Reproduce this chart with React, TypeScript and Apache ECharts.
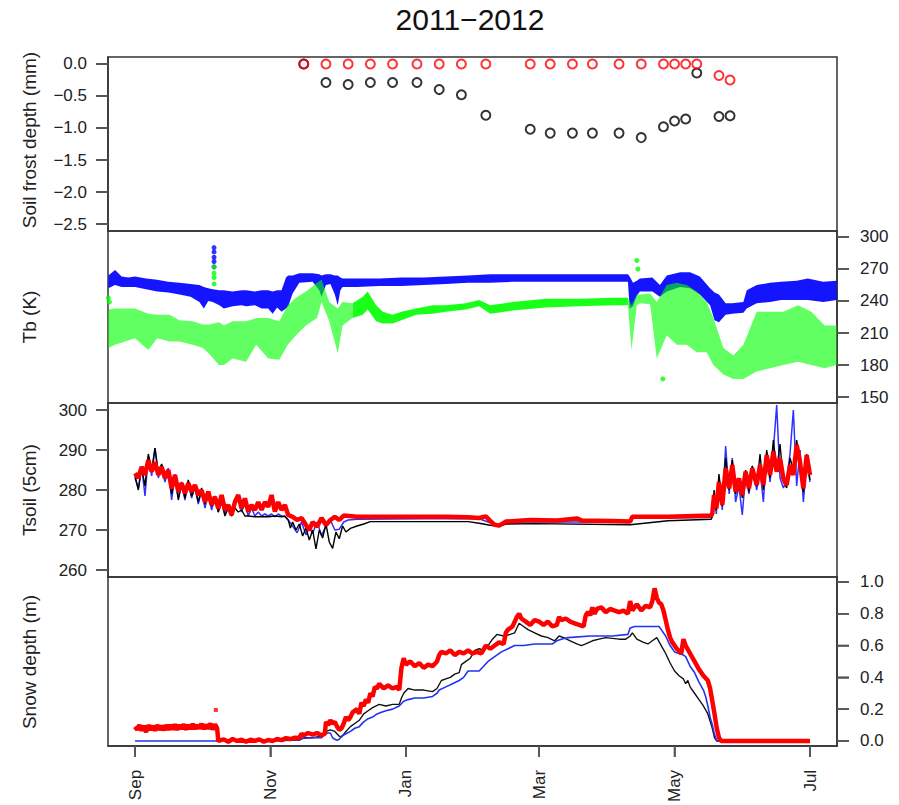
import React, { useEffect, useRef } from 'react';
import * as echarts from 'echarts';

const FONT = '"Liberation Sans", Arial, Helvetica, sans-serif';
const X_MIN = -12.16;
const X_MAX = 316.16;

// x axis: days since 1 Sep 2011
const monthTicks = [0, 61, 122, 182, 243, 304];
const monthLabels = ['Sep', 'Nov', 'Jan', 'Mar', 'May', 'Jul'];

// y tick labels
const frostTicks = [0, -0.5, -1, -1.5, -2, -2.5];
const tbTicks = [150, 180, 210, 240, 270, 300];
const tsoilTicks = [260, 270, 280, 290, 300];
const snowTicks = [0, 0.2, 0.4, 0.6, 0.8, 1.0];

// Panel 1: soil frost depth
const frostDays = [76, 86, 96, 106, 116, 127, 137, 147, 158, 178, 187, 197, 206, 218, 228, 238, 243, 248, 253, 263, 268];
const frostRed = [0, 0, 0, 0, 0, 0, 0, 0, 0, 0, 0, 0, 0, 0, 0, 0, 0, 0, 0, -0.18, -0.25];
const frostBlack = [0, -0.29, -0.32, -0.29, -0.29, -0.29, -0.4, -0.48, -0.8, -1.02, -1.08, -1.08, -1.08, -1.08, -1.15, -0.98, -0.89, -0.86, -0.14, -0.82, -0.81];

// Panel 2: Tb envelopes [day, low, high]
const tbBlueBand = [
  [-12, 252, 264], [-9, 255, 269], [-6, 253, 263], [-3, 253, 262], [0, 253, 263], [5, 251, 261], [10, 249, 260],
  [15, 248, 258], [20, 246, 257], [25, 244, 256], [29, 239, 255], [31, 233, 253], [33, 240, 252], [35, 239, 251],
  [38, 236, 250], [40, 233, 250], [44, 235, 249], [48, 236, 250], [50, 235, 250], [54, 236, 249], [57, 233, 250],
  [60, 233, 250], [62, 228, 249], [64, 234, 250], [66, 230, 250], [68, 233, 262], [69, 235, 264], [71, 247, 264],
  [74, 257, 266], [80, 258, 266], [83, 250, 265], [84, 244, 264], [86, 255, 265], [88, 256, 265], [90, 246, 264],
  [91.3, 236, 264], [92.5, 250, 262], [93.5, 253, 261], [100, 253, 261], [110, 254, 261], [120, 254, 262],
  [130, 255, 262], [140, 256, 263], [150, 257, 264], [160, 257, 265], [170, 258, 265], [180, 258, 265],
  [190, 258, 265], [200, 258, 265], [210, 258, 265], [222, 258, 265], [222.8, 233, 263], [224.3, 235, 257],
  [226, 245, 259], [227.4, 249, 261], [233, 249, 262], [236.4, 244, 255], [239.5, 249, 264], [245.5, 253, 267],
  [250, 252, 267], [254.4, 246, 263], [259, 236, 252], [261, 222, 248], [263, 220, 246], [266, 227, 238],
  [269, 228, 238], [274, 229, 239], [275.5, 233, 250], [280, 238, 255], [286, 239, 257], [291, 241, 258],
  [298, 241, 259], [303, 241, 261], [310, 239, 258], [316, 241, 259],
];
// green envelope split into the noisy autumn part, the smooth winter part and the noisy spring part
const tbGreenAutumn = [
  [-12, 196, 232], [-9, 199, 233], [0, 205, 233], [6, 194, 228], [10, 205, 227], [15.6, 202, 227], [20, 202, 222],
  [26, 199, 221], [30.6, 196, 218], [33.6, 190, 218], [37.8, 180, 220], [40, 180, 217], [44, 186, 221],
  [50, 183, 221], [54.6, 199, 224], [60, 186, 224], [65, 185, 221], [68.8, 199, 236], [72.5, 208, 243],
  [77, 217, 249], [82, 224, 257], [84, 239, 260], [87.5, 221, 239], [91.3, 191, 233], [93.5, 217, 239],
  [98, 224, 238],
];
const tbGreenWinter = [
  [98, 224, 238], [102.6, 227, 244], [104.8, 232, 249], [108.6, 221, 236], [111.6, 219, 230], [116, 219, 227],
  [120, 222, 230], [126.6, 227, 233], [134, 228, 236], [140, 230, 236], [149, 232, 238], [155, 235, 241],
  [160, 228, 236], [170, 231, 239], [185, 234, 242], [200, 235, 242], [215, 236, 243], [222, 236, 243],
];
const tbGreenSpring = [
  [222, 236, 243], [223.6, 194, 236], [226, 236, 246], [227.4, 238, 246], [232, 237, 247], [235, 186, 239],
  [239.5, 208, 255], [244, 199, 257], [248.5, 199, 255], [253, 192, 249], [257.5, 192, 239], [260.5, 180, 224],
  [265, 171, 196], [269.5, 167, 189], [274, 167, 199], [280, 174, 230], [286, 177, 230], [292, 180, 230],
  [298.6, 183, 236], [304.6, 180, 230], [310.6, 177, 217], [316, 180, 217],
];
const tbBlueOut = [[35.6, 290], [35.6, 286], [35.6, 281], [35.6, 277], [35.6, 272]];
const tbGreenOut = [[35.6, 272], [35.6, 266], [35.6, 262], [35.6, 256], [226, 278], [226.5, 270], [237.7, 167], [-12, 243], [-11.5, 239]];

// Panel 3: Tsoil (5cm)
const tsoilRed = [
  [0, 284.2], [1.5, 283], [3, 285.8], [4.5, 283.75], [6, 287.5], [7.5, 284.6], [9, 287], [10.5, 283.75], [12, 285.8],
  [13.5, 283], [15, 285], [16.5, 280.4], [18, 283.75], [19.5, 279.6], [21, 281.7], [22.5, 279.2], [24, 281.7],
  [25.5, 279.6], [27, 281.25], [28.5, 278.75], [30, 280], [31.5, 277], [33, 279.6], [34.5, 276.25], [36, 278.3],
  [37.5, 275.4], [39, 278.75], [40.5, 275], [42, 276.25], [43.5, 273.75], [45, 277], [46.5, 278.75], [48, 275.4],
  [49.5, 277.9], [51, 274.6], [52.5, 276.25], [54, 275], [55.5, 277], [57, 275], [58.5, 277], [60, 275.8],
  [61.5, 278.75], [63, 274.6], [64.5, 277], [66, 275], [67.5, 276.25], [69, 273.75], [71, 273.3], [73, 272.5],
  [75, 273], [77, 271.25], [78.5, 270], [80, 272], [82, 270.8], [84, 273], [86, 271.25], [88, 272.5], [90, 273.3],
  [92, 272.5], [94, 273.6], [100, 273.3], [120, 273.3], [140, 273.3], [150, 273.2], [155, 273], [158, 273.4],
  [160, 272.3], [162, 271.3], [164, 271.1], [167, 272.1], [178, 272.5], [190, 272.4], [199, 272.9], [201, 272.4],
  [215, 272.25], [223, 272.1], [224, 273.3], [240, 273.3], [259.5, 273.6], [260, 274.2], [260.8, 278.75],
  [261.8, 275.4], [263, 282], [264.5, 276.25], [266, 285.4], [267.6, 280.4], [269, 286.25], [270.5, 279.6],
  [272, 282.9], [273.5, 278.75], [275, 284.6], [276.5, 280.4], [278, 285.4], [280, 281.25], [281.5, 286.25],
  [283, 281.25], [284.5, 288.75], [286, 283.75], [287.5, 289.6], [289, 284.6], [290.5, 287.9], [292, 282.9],
  [293.5, 281.25], [295, 286.25], [296.5, 283.75], [298, 291.25], [299.5, 287], [301, 280.4], [302.5, 288.75],
  [304, 283.75],
];
const tsoilBlue = [
  [0, 283], [1.5, 280.5], [3, 286], [4.5, 278.5], [6, 288.5], [7.5, 283.5], [9, 290.5], [10.5, 283], [12, 286],
  [13.5, 282], [15, 285.5], [16.5, 277.5], [18, 284], [19.5, 278], [21, 282], [22.5, 277.5], [24, 282], [25.5, 278],
  [27, 281], [28.5, 276.5], [30, 280], [31.5, 275.5], [33, 279.5], [34.5, 275], [36, 278], [37.5, 274.5], [39, 278],
  [40.5, 274], [42, 276], [43.5, 273.5], [45, 276.5], [46.5, 278], [48, 274.5], [49.5, 277], [51, 273.5],
  [52.5, 275.5], [54, 273.5], [55.5, 274.5], [57, 273.5], [58.5, 274], [60, 273.5], [61.5, 274], [63, 273.3],
  [64.5, 274], [66, 273.5], [67.5, 273.3], [69, 272.5], [71, 271], [73, 269.3], [75, 272], [77, 268.8],
  [78.5, 270.5], [80, 269.2], [82, 272], [84, 268.6], [86, 271], [88, 272.5], [90, 270], [92, 270.2], [94, 272],
  [96, 272.5], [100, 272.7], [130, 272.8], [155, 272.8], [160, 271.8], [163, 270.9], [166, 271.6], [175, 272],
  [200, 272], [223, 271.9], [224, 273], [259.5, 273.1], [260, 273.5], [260.8, 279], [261.8, 274], [263, 283.5],
  [264.5, 275], [266, 291], [267.6, 279], [269, 288], [270.5, 277], [272, 281], [273.5, 273.75], [275, 284],
  [276.5, 279], [278, 286], [280, 280], [281.5, 285], [283, 277], [284.5, 289.5], [286, 282], [287.5, 290],
  [289, 301.25], [290.5, 283], [292, 280.5], [293.5, 282.5], [295, 289], [296.5, 300], [298, 281], [299.5, 290],
  [301, 277], [302.5, 287], [304, 282],
];
const tsoilBlack = [
  [0, 283.5], [1.5, 280], [3, 285.5], [4.5, 281], [6, 289], [7.5, 285], [9, 290.5], [10.5, 284.5], [12, 286.5],
  [13.5, 283.5], [15, 284], [16.5, 279], [18, 283], [19.5, 277.5], [21, 281.5], [22.5, 278], [24, 282.5],
  [25.5, 278.5], [27, 280.5], [28.5, 277], [30, 280.5], [31.5, 276.5], [33, 279], [34.5, 276], [36, 278.5],
  [37.5, 274.5], [39, 277], [40.5, 273.5], [42, 275.5], [43.5, 273.5], [45, 275.5], [46.5, 274.5], [48, 275],
  [49.5, 273.5], [51, 273.5], [54, 273.3], [60, 273.3], [63, 273.5], [66, 273.3], [67.5, 273.5], [69, 272.5],
  [70, 270.5], [71, 272], [72.5, 270], [74, 271.5], [75.5, 268.5], [77, 270.5], [78.5, 267.5], [80, 270],
  [81.5, 265.3], [83, 270], [84.5, 268], [86, 271.5], [87.5, 267], [89, 265.4], [90.5, 269.5], [92, 267.8],
  [93.5, 271], [95, 269.5], [97, 270.4], [100, 271], [103, 271.5], [106, 272.1], [150, 272.1], [155, 271.7],
  [160, 271.2], [164, 270.9], [167, 271.5], [180, 271.6], [223, 271.3], [240, 272.3], [259.5, 272.7], [260, 273.3],
  [260.8, 280], [261.8, 275], [263, 284], [264.5, 276], [266, 288], [267.6, 280], [269, 287.5], [270.5, 279],
  [272, 283], [273.5, 278], [275, 285], [276.5, 279.5], [278, 286], [280, 281], [281.5, 289], [283, 280],
  [284.5, 290], [286, 283], [287.5, 292.5], [289, 285], [290.5, 291.5], [292, 282], [293.5, 280.5], [295, 288],
  [296.5, 285], [298, 292.5], [299.5, 286], [301, 279.5], [302.5, 289], [304, 282.5],
];

// Panel 4: snow depth (m)
const snowRed = [
  [0, 0.09], [1, 0.07], [2, 0.1], [3, 0.065], [4, 0.095], [5, 0.055], [6, 0.1], [7, 0.07], [8, 0.095], [9, 0.065],
  [10, 0.1], [11, 0.07], [12, 0.095], [13, 0.068], [14, 0.1], [15, 0.07], [16, 0.1], [17, 0.072], [18, 0.105],
  [19, 0.07], [20, 0.1], [21, 0.075], [22, 0.105], [23, 0.072], [24, 0.1], [25, 0.075], [26, 0.108], [27, 0.075],
  [28, 0.1], [29, 0.078], [30, 0.108], [31, 0.075], [32, 0.102], [33, 0.078], [34, 0.11], [35, 0.072], [36, 0.105],
  [37, 0.08], [37.5, 0.0], [40, 0.01], [42, -0.005], [44, 0.012], [46, 0.0], [48, 0.008], [50, -0.005], [52, 0.008],
  [54, 0.0], [56, 0.01], [58, -0.005], [60, 0.006], [62, 0.0], [64, 0.012], [66, 0.005], [68, 0.018], [70, 0.012],
  [72, 0.02], [74, 0.018], [75, 0.045], [76, 0.035], [78, 0.05], [80, 0.04], [82, 0.05], [84, 0.035], [85.5, 0.045],
  [86, 0.12], [87, 0.1], [88, 0.13], [89, 0.11], [90, 0.12], [91, 0.09], [92, 0.07], [93, 0.08], [94, 0.11],
  [95, 0.15], [96, 0.13], [97, 0.15], [98, 0.18], [100, 0.2], [101, 0.17], [102, 0.24], [103, 0.22], [104, 0.26],
  [105, 0.24], [106, 0.3], [107, 0.28], [108, 0.34], [109, 0.33], [110, 0.36], [112, 0.33], [114, 0.35],
  [116, 0.33], [118, 0.34], [119, 0.32], [120, 0.46], [121, 0.52], [122, 0.48], [124, 0.5], [126, 0.47],
  [128, 0.49], [130, 0.46], [132, 0.48], [134, 0.47], [136, 0.5], [137, 0.54], [138, 0.56], [140, 0.55],
  [142, 0.57], [144, 0.54], [146, 0.56], [148, 0.55], [150, 0.57], [152, 0.55], [154, 0.56], [156, 0.55],
  [158, 0.6], [160, 0.58], [162, 0.6], [164, 0.62], [166, 0.61], [167, 0.68], [168, 0.7], [170, 0.72], [172, 0.78],
  [173, 0.8], [174, 0.77], [176, 0.75], [178, 0.73], [180, 0.76], [182, 0.75], [184, 0.73], [186, 0.75],
  [188, 0.72], [190, 0.73], [191, 0.78], [192, 0.76], [194, 0.77], [196, 0.75], [198, 0.74], [200, 0.73],
  [202, 0.72], [203, 0.79], [204, 0.81], [205, 0.79], [206, 0.84], [207, 0.8], [208, 0.83], [210, 0.84],
  [212, 0.81], [214, 0.83], [216, 0.82], [218, 0.81], [220, 0.82], [222, 0.8], [223, 0.88], [224, 0.82],
  [226, 0.86], [228, 0.82], [230, 0.85], [232, 0.84], [233, 0.88], [234, 0.96], [235, 0.9], [236, 0.87],
  [237, 0.86], [238, 0.82], [239, 0.76], [240, 0.7], [241, 0.65], [242, 0.62], [244, 0.58], [246, 0.55],
  [247, 0.64], [248, 0.6], [250, 0.55], [252, 0.5], [254, 0.45], [256, 0.41], [258, 0.38], [259, 0.33],
  [260, 0.25], [261, 0.17], [262, 0.08], [263, 0.02], [264, 0.0], [304, 0.0],
];
const snowRedOut = [[36.4, 0.195]];
const snowBlue = [
  [0, 0.0], [37, 0.0], [37.5, 0.008], [60, 0.005], [74, 0.005], [75, 0.015], [80, 0.02], [84, 0.02], [85, 0.04],
  [87, 0.05], [88, 0.05], [89, 0.02], [90, 0.01], [91, 0.005], [92, 0.01], [93, 0.03], [95, 0.045], [97, 0.06],
  [99, 0.08], [101, 0.09], [103, 0.12], [105, 0.14], [107, 0.15], [109, 0.17], [111, 0.18], [113, 0.19],
  [116, 0.2], [119, 0.22], [121, 0.25], [123, 0.26], [126, 0.27], [130, 0.27], [134, 0.28], [136, 0.3],
  [137, 0.32], [140, 0.34], [143, 0.36], [146, 0.38], [148, 0.4], [150, 0.44], [155, 0.44], [157, 0.47],
  [159, 0.5], [162, 0.53], [165, 0.56], [168, 0.58], [171, 0.6], [175, 0.6], [180, 0.61], [188, 0.61],
  [190, 0.63], [192, 0.64], [195, 0.65], [205, 0.66], [215, 0.66], [222, 0.67], [223, 0.71], [225, 0.72],
  [236, 0.72], [237, 0.7], [239, 0.66], [241, 0.6], [243, 0.56], [245, 0.55], [247, 0.54], [248, 0.53],
  [250, 0.47], [252, 0.43], [254, 0.37], [256, 0.32], [257, 0.28], [258, 0.22], [259, 0.15], [260, 0.1],
  [261, 0.04], [262, 0.0], [304, 0.0],
];
const snowBlack = [
  [60, 0.0], [74, 0.005], [76, 0.02], [80, 0.02], [84, 0.03], [86, 0.06], [88, 0.07], [90, 0.06], [92, 0.03],
  [93, 0.025], [95, 0.06], [97, 0.09], [99, 0.11], [101, 0.13], [103, 0.17], [105, 0.19], [107, 0.21], [110, 0.23],
  [113, 0.22], [116, 0.23], [119, 0.23], [120, 0.27], [121, 0.3], [123, 0.33], [126, 0.32], [130, 0.32],
  [134, 0.31], [136, 0.33], [138, 0.38], [140, 0.39], [142, 0.4], [144, 0.42], [146, 0.43], [147, 0.48],
  [149, 0.5], [151, 0.52], [153, 0.57], [155, 0.58], [157, 0.57], [159, 0.6], [161, 0.64], [163, 0.67],
  [166, 0.66], [169, 0.67], [171, 0.68], [173, 0.74], [175, 0.72], [177, 0.7], [180, 0.68], [183, 0.66],
  [186, 0.65], [189, 0.63], [191, 0.66], [193, 0.65], [196, 0.63], [199, 0.61], [201, 0.6], [203, 0.61],
  [206, 0.63], [209, 0.64], [212, 0.65], [215, 0.645], [218, 0.64], [221, 0.64], [223, 0.66], [224, 0.68],
  [226, 0.64], [229, 0.62], [231, 0.61], [233, 0.63], [235, 0.65], [237, 0.6], [239, 0.55], [241, 0.49],
  [243, 0.44], [245, 0.41], [247, 0.39], [248, 0.36], [249, 0.38], [250, 0.34], [252, 0.3], [254, 0.26],
  [256, 0.22], [258, 0.17], [260, 0.08], [261, 0.02], [262, 0.0], [304, 0.0],
];

const fmtMinus = (v: number, d: number) => (Math.abs(v) < 1e-9 ? (0).toFixed(d) : v.toFixed(d).replace('-', '\u2212'));

// envelope band drawn as one polygon through the axis scales
function bandSeries(band: number[][], color: string, opacity: number, axis: number) {
  return {
    type: 'custom', xAxisIndex: axis, yAxisIndex: axis, silent: true, clip: true,
    data: band, encode: { x: 0, y: [1, 2] },
    renderItem: (params: any, api: any) => {
      if (params.dataIndex !== 0) return null;
      const top = band.map((d) => api.coord([d[0], d[2]]));
      const bot = band.slice().reverse().map((d) => api.coord([d[0], d[1]]));
      return {
        type: 'polygon',
        shape: { points: top.concat(bot) },
        style: { fill: color, opacity },
      };
    },
  };
}

const TICK_COLOR = '#555';
const labelStyle = { color: '#222', fontSize: 17, fontFamily: FONT };
const axisLineStyle = { show: true, onZero: false, lineStyle: { color: '#333', width: 1.5 } };

function yAxisCfg(grid: number, pos: 'left' | 'right', min: number, max: number, ticks: number[], fmt: (v: number) => string) {
  return {
    type: 'value', gridIndex: grid, position: pos, min, max,
    axisLine: axisLineStyle,
    splitLine: { show: false },
    axisTick: { show: true, inside: false, length: 12, lineStyle: { color: TICK_COLOR, width: 1.5 }, customValues: ticks },
    axisLabel: { show: true, margin: pos === 'left' ? 21 : 23, ...labelStyle, customValues: ticks, formatter: fmt },
  };
}

function xAxisCfg(grid: number, bottom: boolean) {
  return {
    type: 'value', gridIndex: grid, position: 'bottom', min: X_MIN, max: X_MAX,
    axisLine: { ...axisLineStyle, show: bottom },
    splitLine: { show: false },
    axisTick: { show: bottom, inside: false, length: 11, lineStyle: { color: TICK_COLOR, width: 1.5 }, customValues: monthTicks },
    axisLabel: {
      show: bottom, rotate: 90, margin: 24, ...labelStyle, customValues: monthTicks,
      formatter: (v: number) => {
        const i = monthTicks.findIndex((m) => Math.abs(m - v) < 0.01);
        return i >= 0 ? monthLabels[i] : '';
      },
    },
  };
}

// tick marks as unclipped rect symbols sitting on the axis values
function yTickMarks(g: number, ticks: number[], side: 'left' | 'right') {
  return {
    type: 'scatter', xAxisIndex: g, yAxisIndex: g, silent: true, clip: false, z: 20,
    symbol: 'rect', symbolSize: [12, 1.5], symbolOffset: [side === 'left' ? -6 : 6, 0],
    data: ticks.map((v) => [side === 'left' ? X_MIN : X_MAX, v]),
    itemStyle: { color: TICK_COLOR },
  };
}
function xTickMarks(g: number, yMin: number) {
  return {
    type: 'scatter', xAxisIndex: g, yAxisIndex: g, silent: true, clip: false, z: 20,
    symbol: 'rect', symbolSize: [1.5, 11], symbolOffset: [0, 5.5],
    data: monthTicks.map((m) => [m, yMin]),
    itemStyle: { color: TICK_COLOR },
  };
}

const axisTitle = (text: string, y: number) => ({
  type: 'text', x: 29, y, rotation: Math.PI / 2,
  style: {
    text, fill: '#222', fontSize: 19, fontFamily: FONT,
    textAlign: 'center', textVerticalAlign: 'middle', align: 'center', verticalAlign: 'middle',
  },
});

const GRIDS = [
  { top: 57, height: 174 },
  { top: 231, height: 172 },
  { top: 403, height: 174 },
  { top: 577, height: 171 },
];
const GRID_LEFT = 108;
const GRID_WIDTH = 729;
const Y_RANGES: [number, number][] = [[-2.609, 0.109], [144.4, 305.6], [258.25, 301.75], [-0.031, 1.031]];
const Y_SIDES: ('left' | 'right')[] = ['left', 'right', 'left', 'right'];
const Y_TICKS = [frostTicks, tbTicks, tsoilTicks, snowTicks];

export default function App() {
  const ref = useRef<HTMLDivElement>(null);
  useEffect(() => {
    if (!ref.current) return;
    const chart = echarts.init(ref.current, undefined, { renderer: 'svg' });
    const gridBase = { left: GRID_LEFT, width: GRID_WIDTH, show: true, borderColor: '#333', borderWidth: 1.5, backgroundColor: 'transparent', containLabel: false };
    const fmts = [
      (v: number) => fmtMinus(v, 1),
      (v: number) => String(Math.round(v)),
      (v: number) => String(Math.round(v)),
      (v: number) => v.toFixed(1),
    ];
    const titles: any[] = [
      {
        type: 'text', x: 470, y: 19,
        style: {
          text: '2011\u22122012', fill: '#111', fontSize: 30, fontFamily: FONT,
          textAlign: 'center', textVerticalAlign: 'middle', align: 'center', verticalAlign: 'middle',
        },
      },
      axisTitle('Soil frost depth (mm)', 140),
      axisTitle('Tb (K)', 317),
      axisTitle('Tsoil (5cm)', 490),
      axisTitle('Snow depth (m)', 662),
    ];
    const option: any = {
      animation: false,
      backgroundColor: '#fff',
      grid: GRIDS.map((g) => ({ ...gridBase, ...g })),
      xAxis: [xAxisCfg(0, false), xAxisCfg(1, false), xAxisCfg(2, false), xAxisCfg(3, true)],
      yAxis: Y_RANGES.map((r, i) => yAxisCfg(i, Y_SIDES[i], r[0], r[1], Y_TICKS[i], fmts[i])),
      graphic: titles,
      series: [
        // tick marks
        ...Y_TICKS.map((t, g) => yTickMarks(g, t, Y_SIDES[g])),
        xTickMarks(3, Y_RANGES[3][0]),
        // Panel 1
        {
          type: 'scatter', xAxisIndex: 0, yAxisIndex: 0, symbol: 'circle', symbolSize: 9,
          data: frostDays.map((d, i) => [d, frostBlack[i]]),
          itemStyle: { color: 'rgba(0,0,0,0)', borderColor: '#000', borderWidth: 2 },
        },
        {
          type: 'scatter', xAxisIndex: 0, yAxisIndex: 0, symbol: 'circle', symbolSize: 9,
          data: frostDays.map((d, i) => [d, frostRed[i]]),
          itemStyle: { color: 'rgba(0,0,0,0)', borderColor: '#ff0000', borderWidth: 2 },
        },
        // Panel 2
        bandSeries(tbBlueBand, '#0000ff', 0.92, 1),
        {
          type: 'scatter', xAxisIndex: 1, yAxisIndex: 1, symbolSize: 5, data: tbBlueOut,
          itemStyle: { color: '#0000ff' },
        },
        bandSeries(tbGreenAutumn, '#00ff00', 0.62, 1),
        bandSeries(tbGreenWinter, '#00ff00', 0.9, 1),
        bandSeries(tbGreenSpring, '#00ff00', 0.62, 1),
        {
          type: 'scatter', xAxisIndex: 1, yAxisIndex: 1, symbolSize: 5, data: tbGreenOut,
          itemStyle: { color: '#00ff00' },
        },
        // Panel 3
        {
          type: 'line', xAxisIndex: 2, yAxisIndex: 2, symbol: 'none', data: tsoilBlue,
          lineStyle: { color: '#3030ff', width: 1.5 },
        },
        {
          type: 'line', xAxisIndex: 2, yAxisIndex: 2, symbol: 'none', data: tsoilBlack,
          lineStyle: { color: '#000', width: 1.4 },
        },
        {
          type: 'line', xAxisIndex: 2, yAxisIndex: 2, symbol: 'none', data: tsoilRed,
          lineStyle: { color: '#ff0000', width: 4.5 },
        },
        // Panel 4
        {
          type: 'line', xAxisIndex: 3, yAxisIndex: 3, symbol: 'none', data: snowBlack,
          lineStyle: { color: '#111', width: 1.4 },
        },
        {
          type: 'line', xAxisIndex: 3, yAxisIndex: 3, symbol: 'none', data: snowBlue,
          lineStyle: { color: '#2233ee', width: 1.6 },
        },
        {
          type: 'line', xAxisIndex: 3, yAxisIndex: 3, symbol: 'none', data: snowRed,
          lineStyle: { color: '#ff0000', width: 4.5 },
        },
        {
          type: 'scatter', xAxisIndex: 3, yAxisIndex: 3, symbol: 'rect', symbolSize: 4, data: snowRedOut,
          itemStyle: { color: '#ff0000' },
        },
      ],
    };
    chart.setOption(option);

    // additional tick marks as filled graphic rects, positioned through the axis scales
    const toPixel = (g: number, x: number, y: number): number[] => {
      let p: any = null;
      try {
        p = chart.convertToPixel({ xAxisIndex: g, yAxisIndex: g }, [x, y]);
      } catch (e) {
        p = null;
      }
      if (p && isFinite(p[0]) && isFinite(p[1])) return p as number[];
      const [lo, hi] = Y_RANGES[g];
      const grid = GRIDS[g];
      return [
        GRID_LEFT + ((x - X_MIN) / (X_MAX - X_MIN)) * GRID_WIDTH,
        grid.top + ((hi - y) / (hi - lo)) * grid.height,
      ];
    };
    const ticks: any[] = [];
    Y_TICKS.forEach((tv, g) => {
      const side = Y_SIDES[g];
      tv.forEach((v) => {
        const p = toPixel(g, side === 'left' ? X_MIN : X_MAX, v);
        ticks.push({
          type: 'rect', z: 50, silent: true,
          shape: { x: side === 'left' ? p[0] - 12 : p[0], y: p[1] - 0.75, width: 12, height: 1.5 },
          style: { fill: TICK_COLOR },
        });
      });
    });
    monthTicks.forEach((m) => {
      const p = toPixel(3, m, Y_RANGES[3][0]);
      ticks.push({
        type: 'rect', z: 50, silent: true,
        shape: { x: p[0] - 0.75, y: p[1], width: 1.5, height: 11 },
        style: { fill: TICK_COLOR },
      });
    });
    chart.setOption({ graphic: [...titles, ...ticks] });

    return () => chart.dispose();
  }, []);
  return <div ref={ref} style={{ position: 'fixed', left: 0, top: 0, width: 899, height: 805, background: '#fff' }} />;
}
